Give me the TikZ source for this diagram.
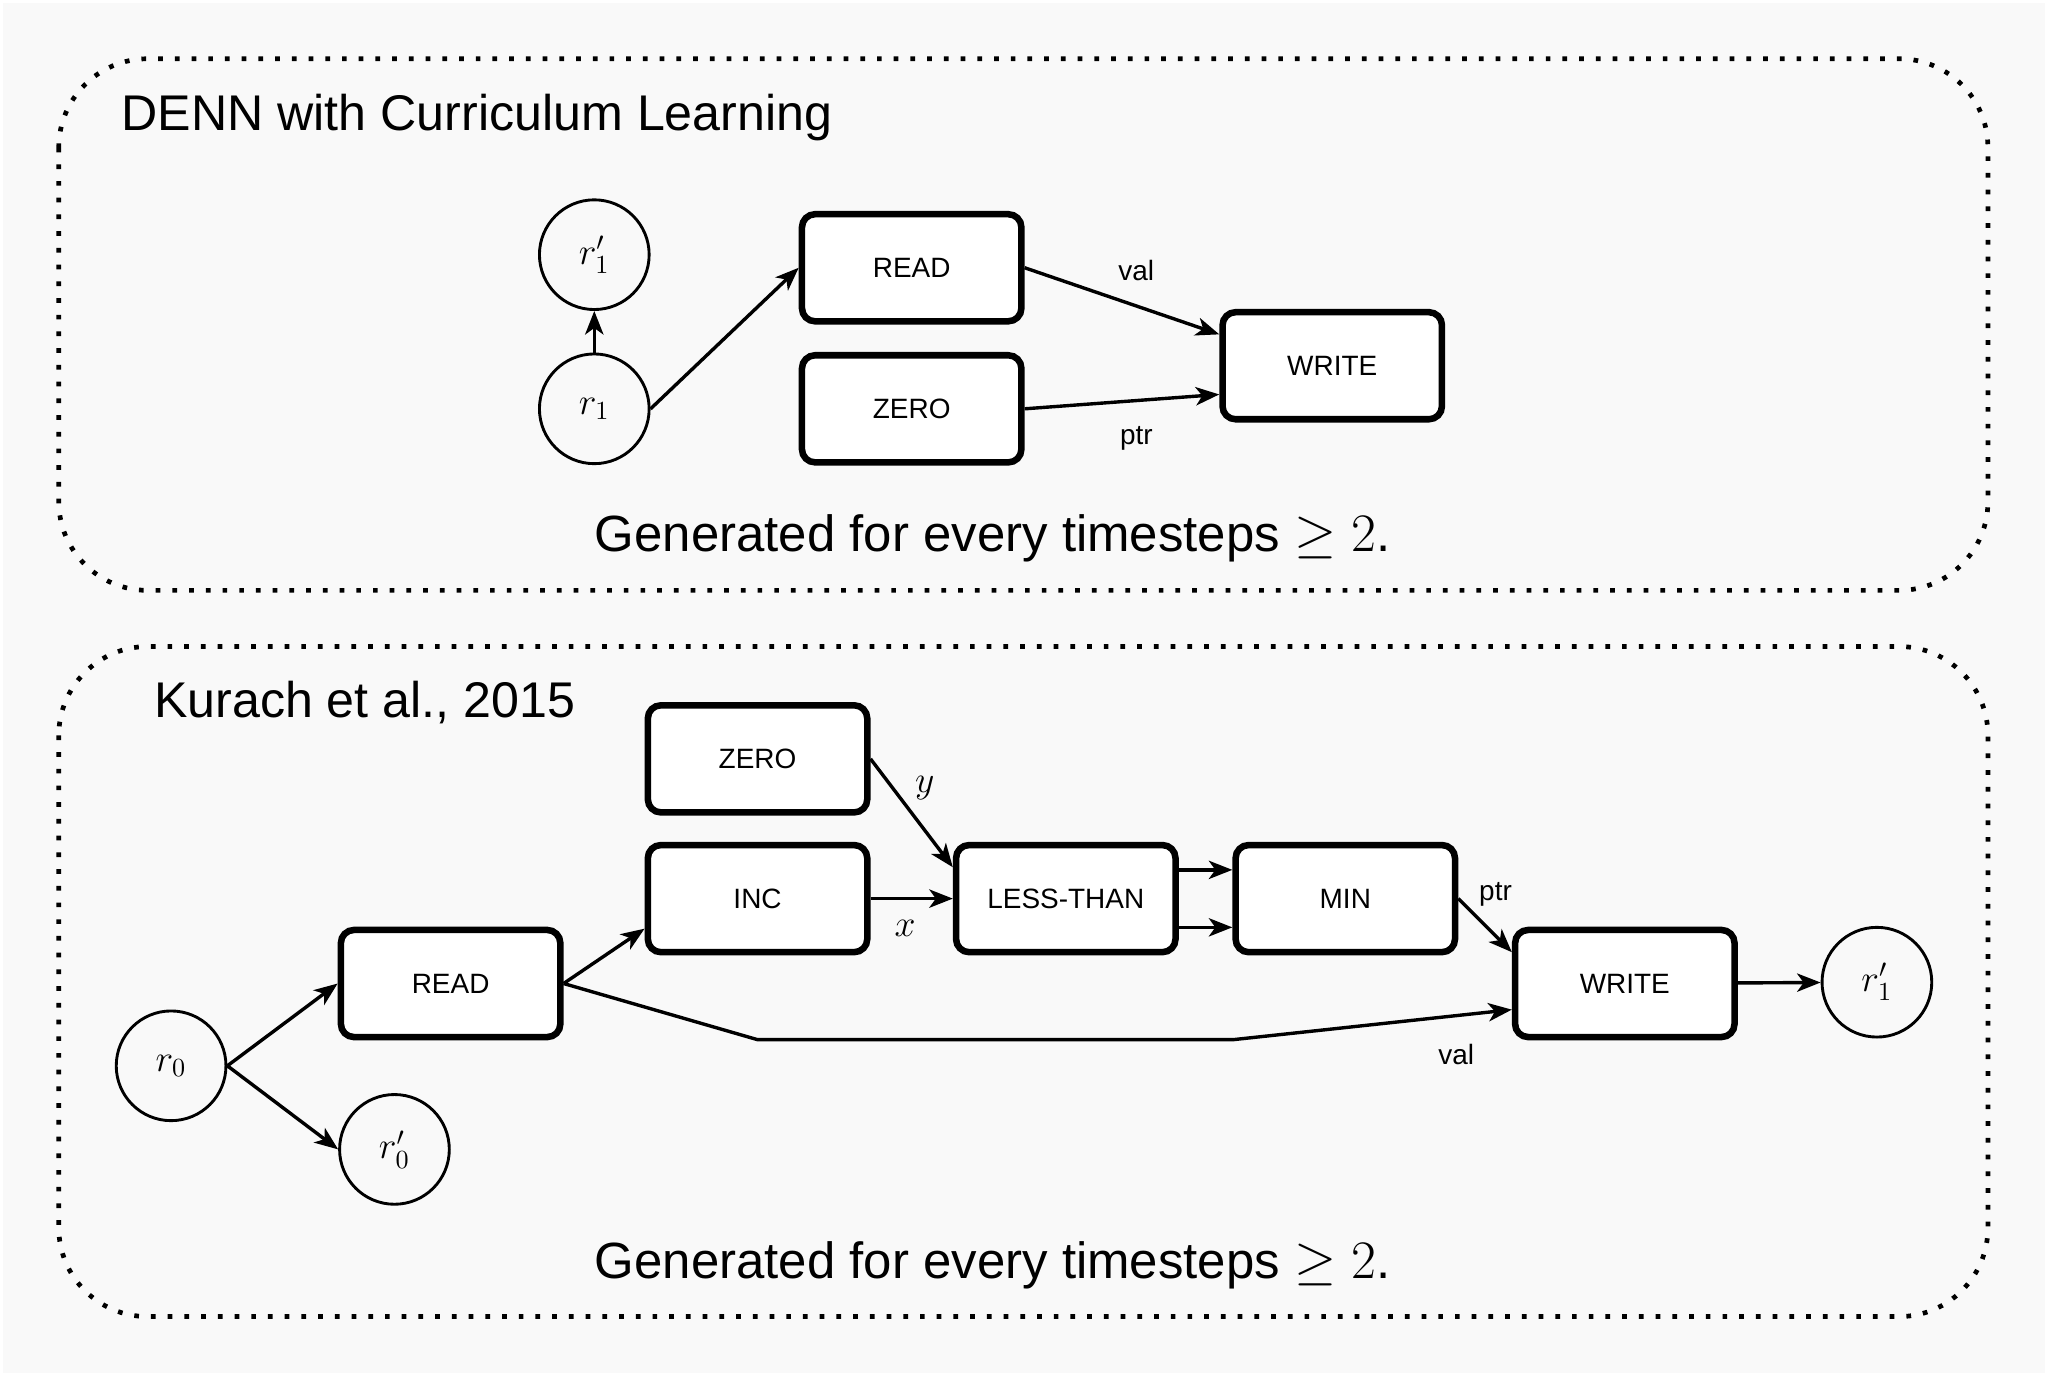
\documentclass[tikz,border=0pt]{standalone}
\usepackage{fontspec}
\setmainfont{Liberation Sans}
\usetikzlibrary{arrows.meta}
\definecolor{bggray}{HTML}{F9F9F9}

\begin{document}
\begin{tikzpicture}[x=0.5pt, y=-0.5pt,
    op/.style={draw, fill=white, line width=2.5pt, rounded corners=5pt, minimum width=84pt, minimum height=41pt, font=\fontsize{10.7}{12}\selectfont},
    reg/.style={circle, draw, line width=1.1pt, minimum size=42pt, inner sep=0pt, font=\fontsize{14}{16}\selectfont},
    wire/.style={-{Stealth[length=9pt, width=7pt, inset=2.5pt]}, line width=1.3pt},
    lbl/.style={font=\fontsize{10.7}{12}\selectfont},
    mathlbl/.style={font=\fontsize{14}{16}\selectfont},
    title/.style={anchor=west, font=\fontsize{19.2}{23}\selectfont},
    caption/.style={font=\fontsize{19.5}{23}\selectfont},
    panel/.style={line width=1.8pt, dash pattern=on 1.8pt off 4.6pt, rounded corners=34pt}]
    % Background
    \useasboundingbox (0,0) rectangle (1568,1053);
    \fill[white] (0,0) rectangle (1568,1053);
    \fill[bggray] (2,2) rectangle (1566,1051);

    % Top panel: DENN with curriculum learning
    \draw[panel] (45,45) rectangle (1522,452);
    \node[title] (titleA) at (86,90) {DENN with Curriculum Learning};
    \node[reg] (r1p) at (455,195) {$r_1'$};
    \node[reg] (r1) at (455,313) {$r_1$};
    \node[op] (read) at (698,205) {READ};
    \node[op] (zero) at (698,313) {ZERO};
    \node[op] (write) at (1020,280) {WRITE};
    \node[lbl] (valA) at (870,207) {val};
    \node[lbl] (ptrA) at (870,336) {ptr};
    \node[caption] (capA) at (760,412) {Generated for every timesteps $\geq 2$.};

    % Connect top panel
    \draw[wire] (r1) -- (r1p);
    \draw[wire] (r1.east) -- (read.west);
    \draw[wire] (read.east) -- ([yshift=12pt]write.west);
    \draw[wire] (zero.east) -- ([yshift=-11pt]write.west);

    % Bottom panel: Kurach et al.
    \draw[panel] (45,495) rectangle (1522,1008);
    \node[title] (titleB) at (111,538) {Kurach et al., 2015};
    \node[reg] (r0) at (131,816) {$r_0$};
    \node[reg] (r0p) at (302,880) {$r_0'$};
    \node[op] (readB) at (345,753) {READ};
    \node[op] (zeroB) at (580,581) {ZERO};
    \node[op] (inc) at (580,688) {INC};
    \node[op] (lt) at (816,688) {LESS-THAN};
    \node[op] (min) at (1030,688) {MIN};
    \node[op] (writeB) at (1244,753) {WRITE};
    \node[reg] (r1q) at (1437,752) {$r_1'$};
    \node[mathlbl] (ylbl) at (708,603) {$y$};
    \node[mathlbl] (xlbl) at (693,711) {$x$};
    \node[lbl] (ptrB) at (1145,685) {ptr};
    \node[lbl] (valB) at (1115,807) {val};
    \coordinate (v1) at (580,796);
    \coordinate (v2) at (944,796);
    \node[caption] (capB) at (760,969) {Generated for every timesteps $\geq 2$.};

    % Connect bottom panel
    \draw[wire] (r0.east) -- (readB.west);
    \draw[wire] (r0.east) -- (r0p.west);
    \draw[wire] (readB.east) -- ([yshift=-11.5pt]inc.west);
    \draw[wire] (readB.east) -- (v1) -- (v2) -- ([yshift=-10pt]writeB.west);
    \draw[wire] (zeroB.east) -- ([yshift=12pt]lt.west);
    \draw[wire] (inc) -- (lt);
    \foreach \s in {11,-11} {
        \draw[wire] ([yshift=\s pt]lt.east) -- ([yshift=\s pt]min.west);
    }
    \draw[wire] (min.east) -- ([yshift=12pt]writeB.west);
    \draw[wire] (writeB) -- (r1q);
\end{tikzpicture}
\end{document}
